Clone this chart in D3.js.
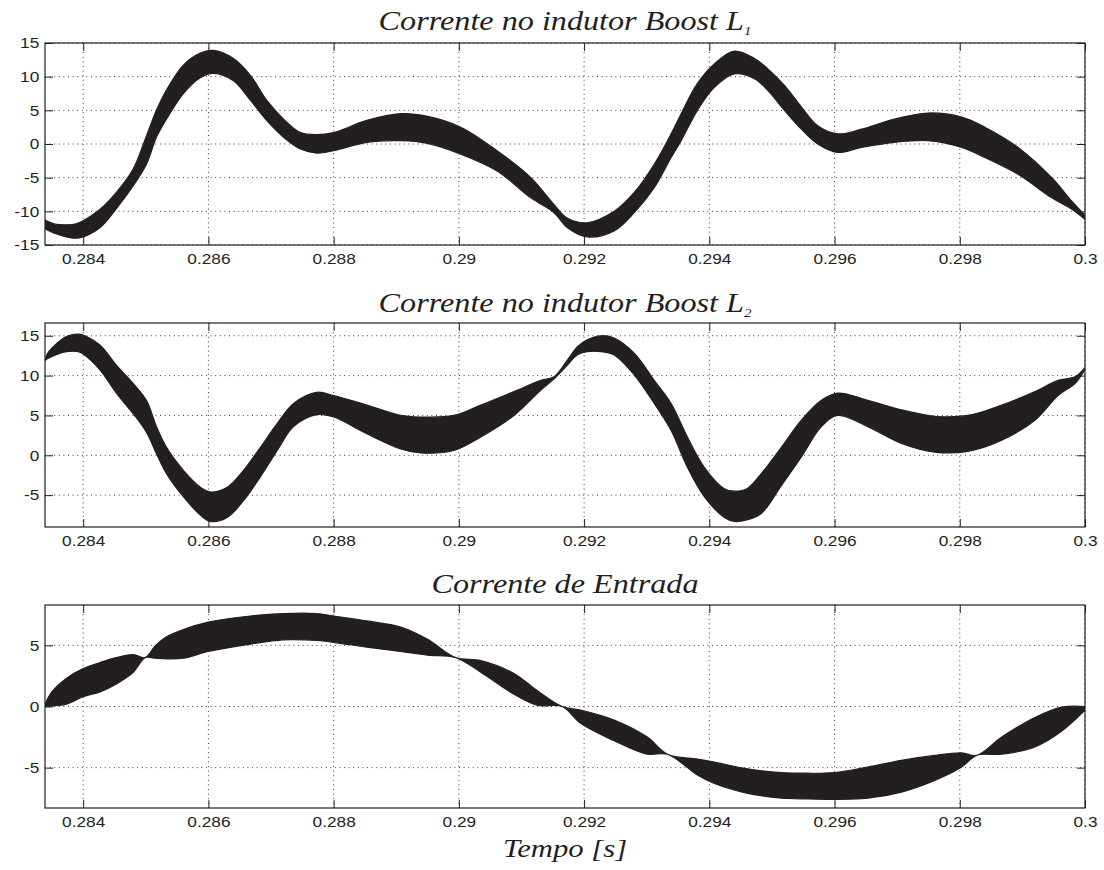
<!DOCTYPE html>
<html>
<head>
<meta charset="utf-8">
<script src="https://cdn.jsdelivr.net/npm/d3@7"></script>
<style>
  body { margin: 0; background: #ffffff; }
  svg { display: block; }
</style>
</head>
<body>
<script>
// Boost inductor current L1: envelope of the switching ripple (upper / lower) [A]
const timeL1 = [0.28339, 0.28355, 0.28373, 0.28387, 0.28400, 0.28427, 0.28453, 0.28480, 0.28501, 0.28517,
  0.28533, 0.28560, 0.28587, 0.28608, 0.28640, 0.28667, 0.28693, 0.28720, 0.28747, 0.28773,
  0.28800, 0.28853, 0.28907, 0.28950, 0.29003, 0.29061, 0.29115, 0.29152, 0.29173, 0.29205,
  0.29248, 0.29280, 0.29312, 0.29339, 0.29355, 0.29381, 0.29408, 0.29440, 0.29472, 0.29493,
  0.29520, 0.29547, 0.29573, 0.29605, 0.29643, 0.29696, 0.29749, 0.29803, 0.29840, 0.29893,
  0.29947, 0.29979, 0.30000];
const upperL1 = [-11.3, -11.9, -12.0, -11.9, -11.4, -9.7, -7.2, -3.7, 1.2, 5.0,
  8.0, 11.7, 13.5, 13.9, 12.7, 10.2, 6.5, 3.7, 1.7, 1.4,
  1.7, 3.5, 4.5, 4.1, 2.5, -1.0, -5.0, -9.0, -11.0, -11.7,
  -10.0, -7.2, -3.0, 1.5, 4.5, 9.0, 11.9, 13.8, 12.7, 11.2,
  8.7, 5.5, 2.7, 1.5, 2.2, 3.7, 4.6, 4.0, 2.5, -0.5,
  -5.0, -8.5, -10.6];
const lowerL1 = [-12.6, -13.3, -13.8, -14.0, -13.8, -12.4, -9.6, -6.2, -3.0, 1.0,
  3.7, 7.5, 9.85, 10.5, 9.4, 6.5, 3.5, 1.0, -0.75, -1.35,
  -1.0, 0.25, 0.5, 0.1, -1.5, -4.0, -8.0, -10.2, -12.4, -13.8,
  -12.9, -10.2, -6.5, -2.0, 0.5, 5.0, 8.4, 10.4, 9.7, 8.0,
  5.0, 2.2, 0.0, -1.25, -0.5, 0.25, 0.5, -0.5, -2.0, -4.5,
  -8.0, -9.7, -11.2];

// Boost inductor current L2 [A]
const timeL2 = [0.28339, 0.28345, 0.28373, 0.28392, 0.28400, 0.28427, 0.28453, 0.28480, 0.28501, 0.28517,
  0.28533, 0.28560, 0.28587, 0.28603, 0.28630, 0.28656, 0.28683, 0.28710, 0.28736, 0.28773,
  0.28800, 0.28853, 0.28907, 0.28939, 0.28992, 0.29035, 0.29088, 0.29131, 0.29152, 0.29173,
  0.29189, 0.29205, 0.29227, 0.29248, 0.29280, 0.29312, 0.29339, 0.29365, 0.29392, 0.29424,
  0.29440, 0.29460, 0.29483, 0.29515, 0.29547, 0.29579, 0.29605, 0.29653, 0.29707, 0.29760,
  0.29813, 0.29867, 0.29920, 0.29957, 0.29984, 0.30000];
const upperL2 = [12.0, 13.0, 14.9, 15.2, 15.1, 13.8, 11.3, 9.0, 6.9, 3.6,
  1.0, -1.9, -4.0, -4.6, -4.0, -1.9, 1.0, 4.0, 6.5, 7.9,
  7.5, 6.3, 5.0, 4.8, 5.0, 6.3, 8.0, 9.4, 9.85, 11.9,
  13.6, 14.5, 15.0, 14.7, 12.8, 9.4, 6.5, 2.3, -1.5, -4.2,
  -4.5, -4.2, -2.3, 1.0, 4.4, 6.9, 7.8, 6.9, 5.7, 4.9,
  5.0, 6.3, 8.0, 9.4, 9.85, 11.0];
const lowerL2 = [11.9, 12.2, 13.0, 13.0, 12.7, 10.7, 7.8, 5.2, 2.9, 0.2,
  -2.3, -5.2, -7.5, -8.3, -7.8, -5.7, -2.7, 0.6, 3.6, 5.1,
  4.8, 2.7, 0.8, 0.3, 0.6, 2.3, 5.0, 8.2, 9.6, 11.3,
  12.6, 13.0, 13.0, 12.6, 10.1, 6.5, 3.1, -1.5, -5.2, -7.8,
  -8.3, -8.1, -7.3, -3.8, -0.2, 3.6, 5.0, 3.6, 1.5, 0.4,
  0.5, 1.9, 4.4, 7.5, 9.0, 10.8];

// Input current [A]
const timeIn = [0.28339, 0.28350, 0.28373, 0.28400, 0.28427, 0.28453, 0.28480, 0.28499, 0.28515, 0.28533,
  0.28560, 0.28600, 0.28667, 0.28720, 0.28773, 0.28800, 0.28853, 0.28907, 0.28950, 0.28995,
  0.29035, 0.29088, 0.29125, 0.29165, 0.29195, 0.29248, 0.29301, 0.29333, 0.29381, 0.29408,
  0.29461, 0.29515, 0.29547, 0.29600, 0.29653, 0.29707, 0.29760, 0.29803, 0.29827, 0.29867,
  0.29920, 0.29963, 0.30000];
const upperIn = [0.2, 1.2, 2.3, 3.1, 3.6, 4.0, 4.25, 4.0, 4.95, 5.7,
  6.3, 6.9, 7.4, 7.6, 7.6, 7.4, 7.0, 6.5, 5.5, 4.0,
  3.75, 2.7, 1.3, 0.0, -0.3, -1.1, -2.5, -3.9, -4.3, -4.55,
  -5.1, -5.4, -5.45, -5.4, -4.95, -4.4, -4.0, -3.8, -4.0, -2.5,
  -0.9, -0.05, 0.0];
const lowerIn = [0.0, 0.05, 0.2, 0.8, 1.2, 1.85, 2.8, 4.0, 3.95, 3.9,
  3.95, 4.5, 5.1, 5.45, 5.4, 5.25, 4.85, 4.5, 4.2, 4.0,
  2.8, 1.0, 0.1, 0.0, -1.4, -2.8, -3.9, -3.9, -5.6, -6.3,
  -7.1, -7.5, -7.55, -7.6, -7.5, -7.0, -6.05, -4.95, -4.0, -3.9,
  -3.3, -2.0, -0.3];

// Axis ticks
const timeTicks = [0.284, 0.286, 0.288, 0.290, 0.292, 0.294, 0.296, 0.298, 0.300];
const timeTickLabels = ["0.284", "0.286", "0.288", "0.29", "0.292", "0.294", "0.296", "0.298", "0.3"];
const ticksL1 = [-15, -10, -5, 0, 5, 10, 15];
const ticksL2 = [-5, 0, 5, 10, 15];
const ticksIn = [-5, 0, 5];

const titleL1 = { main: "Corrente no indutor Boost L", sub: "1" };
const titleL2 = { main: "Corrente no indutor Boost L", sub: "2" };
const titleIn = { main: "Corrente de Entrada", sub: "" };
const xLabel = "Tempo [s]";

// ---- layout ----
const W = 1104, H = 870;
const left = 45, right = 1085;
const bandColor = "#231f20";
const inkColor = "#231f20";
const stretch = 1.15; // horizontal text stretch

const panels = [
  { top: 43,  bottom: 245, domain: [-15, 15],   ticks: ticksL1, t: timeL1, up: upperL1, lo: lowerL1, title: titleL1, titleY: 30 },
  { top: 323, bottom: 527, domain: [-9, 16.6],  ticks: ticksL2, t: timeL2, up: upperL2, lo: lowerL2, title: titleL2, titleY: 311.5 },
  { top: 605, bottom: 808, domain: [-8.3, 8.3], ticks: ticksIn, t: timeIn, up: upperIn, lo: lowerIn, title: titleIn, titleY: 593 }
];

const svg = d3.select("body").append("svg")
  .attr("width", W).attr("height", H)
  .style("background", "#fff");

const x = d3.scaleLinear().domain([0.28339, 0.3]).range([left, right]);

panels.forEach((p, i) => {
  const y = d3.scaleLinear().domain(p.domain).range([p.bottom, p.top]);
  const g = svg.append("g");

  const clipId = "clip" + i;
  svg.append("clipPath").attr("id", clipId)
    .append("rect").attr("x", left).attr("y", p.top)
    .attr("width", right - left).attr("height", p.bottom - p.top);

  // dotted grid
  const grid = g.append("g").attr("stroke", "#3a3a3a").attr("stroke-width", 1)
    .attr("stroke-dasharray", "1,3.6").attr("fill", "none");
  timeTicks.forEach(v => {
    grid.append("line").attr("x1", x(v)).attr("x2", x(v))
      .attr("y1", p.top).attr("y2", p.bottom);
  });
  p.ticks.forEach(v => {
    grid.append("line").attr("x1", left).attr("x2", right)
      .attr("y1", y(v)).attr("y2", y(v));
  });

  // ripple band
  const rows = p.t.map((t, k) => ({ t, up: p.up[k], lo: p.lo[k] }));
  const area = d3.area()
    .x(d => x(d.t))
    .y0(d => y(d.lo))
    .y1(d => y(d.up))
    .curve(d3.curveCatmullRom.alpha(0.5));
  g.append("path").datum(rows)
    .attr("clip-path", `url(#${clipId})`)
    .attr("d", area)
    .attr("fill", bandColor)
    .attr("stroke", bandColor)
    .attr("stroke-width", 1.2)
    .attr("stroke-linejoin", "round");

  // axes with inward ticks on all four sides
  const fmt = (v) => timeTickLabels[timeTicks.indexOf(v)];
  const bottomAxis = d3.axisBottom(x).tickValues(timeTicks).tickFormat(fmt)
    .tickSizeInner(-8).tickSizeOuter(0).tickPadding(8);
  const topAxis = d3.axisTop(x).tickValues(timeTicks).tickFormat("")
    .tickSizeInner(-8).tickSizeOuter(0);
  const leftAxis = d3.axisLeft(y).tickValues(p.ticks).tickFormat(d3.format("d"))
    .tickSizeInner(-8).tickSizeOuter(0).tickPadding(5);
  const rightAxis = d3.axisRight(y).tickValues(p.ticks).tickFormat("")
    .tickSizeInner(-8).tickSizeOuter(0);

  const axes = [
    g.append("g").attr("transform", `translate(0,${p.bottom})`).call(bottomAxis),
    g.append("g").attr("transform", `translate(0,${p.top})`).call(topAxis),
    g.append("g").attr("transform", `translate(${left},0)`).call(leftAxis),
    g.append("g").attr("transform", `translate(${right},0)`).call(rightAxis)
  ];
  axes.forEach(a => {
    a.select(".domain").remove();
    a.selectAll(".tick line").attr("stroke", inkColor).attr("stroke-width", 1);
    a.selectAll(".tick text")
      .attr("fill", inkColor)
      .style("font-family", "'Liberation Sans', Arial, Helvetica, sans-serif")
      .style("font-size", "15px")
      .attr("transform", `scale(${stretch},1)`);
  });
  // y labels: MATLAB style minus is a hyphen
  axes[2].selectAll(".tick text").text(d => String(d));

  // frame
  g.append("rect").attr("x", left).attr("y", p.top)
    .attr("width", right - left).attr("height", p.bottom - p.top)
    .attr("fill", "none").attr("stroke", inkColor).attr("stroke-width", 1.2);

  // title
  const cx = (left + right) / 2;
  const tt = svg.append("text")
    .attr("transform", `translate(${cx},${p.titleY}) scale(${stretch},1)`)
    .attr("text-anchor", "middle")
    .attr("fill", inkColor)
    .style("font-family", "'Liberation Serif', 'Times New Roman', serif")
    .style("font-style", "italic")
    .style("font-size", "28px");
  tt.append("tspan").text(p.title.main);
  if (p.title.sub) {
    tt.append("tspan").attr("dy", 5).style("font-size", "13px").text(p.title.sub);
  }
});

// x axis label
svg.append("text")
  .attr("transform", `translate(${(left + right) / 2},857) scale(1.18,1)`)
  .attr("text-anchor", "middle")
  .attr("fill", inkColor)
  .style("font-family", "'Liberation Serif', 'Times New Roman', serif")
  .style("font-style", "italic")
  .style("font-size", "26px")
  .text(xLabel);
</script>
</body>
</html>
